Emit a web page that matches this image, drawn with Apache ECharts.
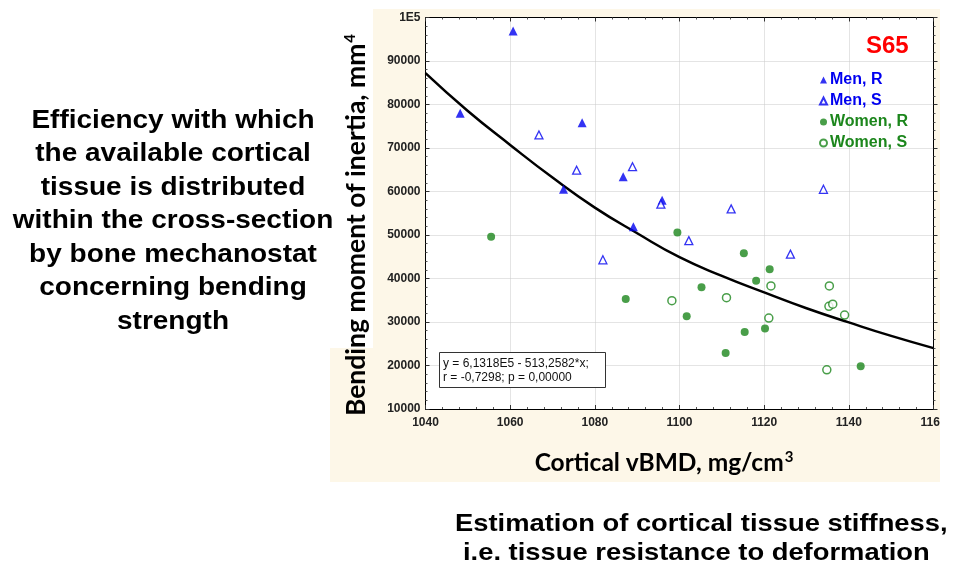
<!DOCTYPE html>
<html>
<head>
<meta charset="utf-8">
<script src="https://cdn.jsdelivr.net/npm/echarts@6/dist/echarts.min.js"></script>
<style>
  html, body { margin: 0; padding: 0; background: #ffffff; }
  #chart { width: 972px; height: 571px; }
</style>
</head>
<body>
<div id="chart"></div>
<script>
// Cortical vBMD (mg/cm3) vs bending moment of inertia (mm4), site S65
const menR = [[1048.2, 78000], [1060.7, 96900], [1077.0, 75800], [1072.6, 60500],
              [1086.7, 63400], [1089.1, 51900], [1095.9, 58000]];
const menS = [[1066.8, 73000], [1075.7, 64900], [1088.9, 65700], [1134.0, 60500],
              [1112.2, 56000], [1095.6, 57100], [1102.2, 48700], [1126.2, 45600],
              [1081.9, 44300]];
const womenR = [[1055.5, 49600], [1087.3, 35300], [1099.5, 50600], [1115.2, 45800],
                [1121.3, 42100], [1118.1, 39500], [1105.2, 38000], [1101.7, 31300],
                [1115.4, 27700], [1120.2, 28500], [1110.9, 22900], [1142.8, 19800]];
const womenS = [[1098.2, 34900], [1111.1, 35600], [1121.6, 38300], [1121.1, 30900],
                [1135.4, 38300], [1135.3, 33600], [1136.2, 34100], [1139.0, 31600],
                [1134.8, 19000]];
// fitted regression curve, sampled every 10 mg/cm3
const fitX = [1040, 1050, 1060, 1070, 1080, 1090, 1100, 1110, 1120, 1130, 1140, 1150, 1160];
const fitY = [87200, 78500, 70700, 63200, 56300, 50400, 44900, 40600, 36800, 33150, 29900, 26800, 24000];

const seriesNames = ['Men, R', 'Men, S', 'Women, R', 'Women, S'];
const eqLines = ['y = 6,1318E5 - 513,2582*x;', 'r = -0,7298; p = 0,00000'];
const leftNote = ['Efficiency with which', 'the available cortical', 'tissue is distributed',
                  'within the cross-section', 'by bone mechanostat', 'concerning bending', 'strength'];
const bottomNote = ['Estimation of cortical tissue stiffness,', 'i.e. tissue resistance to deformation'];

const BLUE = '#0000f0';
const GREEN = '#1c861c';
const labelFont = { fontFamily: 'Liberation Sans, Arial, sans-serif', fontWeight: 'bold', fontSize: 12, color: '#222' };

const chart = echarts.init(document.getElementById('chart'), null, { renderer: 'canvas' });

function frameAxis(extra) {
  return Object.assign({
    type: 'value',
    axisLine: { show: true, lineStyle: { color: '#000', width: 1 } },
    axisTick: { show: true, inside: true, length: 4, lineStyle: { color: '#333' } },
    minorTick: { show: true, splitNumber: 5, length: 2, lineStyle: { color: '#555' } },
    axisLabel: { show: false },
    splitLine: { show: false }
  }, extra);
}

const titleRich = {
  t: { fontFamily: 'Lato, sans-serif', fontWeight: 'bold', fill: '#000' },
  s: { fontFamily: 'Lato, sans-serif', fontWeight: 'bold', fill: '#000', fontSize: 15, padding: [0, 0, 12, 1] }
};

const option = {
  animation: false,
  backgroundColor: '#ffffff',
  grid: { left: 425.5, top: 17.5, width: 508, height: 391.5, show: false, containLabel: false },
  xAxis: [
    frameAxis({
      min: 1040, max: 1160, interval: 20, position: 'bottom',
      axisLabel: Object.assign({ show: true, margin: 8, formatter: v => String(v) }, labelFont),
      splitLine: { show: true, lineStyle: { color: '#c9c9c9', type: 'dotted' } }
    }),
    frameAxis({ min: 1040, max: 1160, interval: 20, position: 'top' })
  ],
  yAxis: [
    frameAxis({
      min: 10000, max: 100000, interval: 10000, position: 'left',
      axisLabel: Object.assign({ show: true, margin: 5,
        formatter: v => (v === 100000 ? '1E5' : String(v)) }, labelFont),
      splitLine: { show: true, lineStyle: { color: '#c9c9c9', type: 'dotted' } }
    }),
    frameAxis({ min: 10000, max: 100000, interval: 10000, position: 'right',
      axisTick: { show: true, inside: false, length: 4, lineStyle: { color: '#333' } } })
  ],
  legend: {
    orient: 'vertical', left: 814, top: 67,
    itemWidth: 7, itemHeight: 7, itemGap: 5,
    textStyle: { fontFamily: 'Liberation Sans, Arial, sans-serif', fontWeight: 'bold', fontSize: 16, lineHeight: 16, padding: [0, 0, 0, -2] },
    data: [
      { name: seriesNames[0], textStyle: { color: BLUE } },
      { name: seriesNames[1], textStyle: { color: BLUE } },
      { name: seriesNames[2], textStyle: { color: GREEN } },
      { name: seriesNames[3], textStyle: { color: GREEN } }
    ]
  },
  graphic: [
    // tan panel behind the plot
    { type: 'rect', z: -100, silent: true, shape: { x: 330, y: 9, width: 610, height: 473 }, style: { fill: '#fdf7e8' } },
    { type: 'rect', z: -99, silent: true, shape: { x: 330, y: 9, width: 43, height: 339 }, style: { fill: '#ffffff' } },
    { type: 'rect', z: -99, silent: true, shape: { x: 425.5, y: 17.5, width: 508, height: 391.5 }, style: { fill: '#ffffff' } },
    // trims the last x tick label at the panel edge
    { type: 'rect', z: 100, silent: true, shape: { x: 940, y: 412, width: 32, height: 30 }, style: { fill: '#ffffff' } },
    // axis titles
    { type: 'text', z: 50, x: 356, y: 225, rotation: Math.PI / 2,
      style: { text: '{t|Bending moment of inertia, mm}{s|4}', textAlign: 'center', textVerticalAlign: 'middle',
               rich: { t: Object.assign({}, titleRich.t, { fontSize: 26.5 }), s: titleRich.s } } },
    { type: 'text', z: 50, x: 664, y: 463,
      style: { text: '{t|Cortical vBMD, mg/cm}{s|3}', textAlign: 'center', textVerticalAlign: 'middle',
               rich: { t: Object.assign({}, titleRich.t, { fontSize: 24.5 }), s: titleRich.s } } },
    { type: 'text', z: 50, left: 866, top: 34,
      style: { text: 'S65', fill: '#ff0000', font: 'bold 24px "Liberation Sans", Arial, sans-serif' } },
    { type: 'rect', z: 50, shape: { x: 439.5, y: 352.5, width: 166, height: 35 }, style: { fill: '#ffffff', stroke: '#333', lineWidth: 1 } },
    { type: 'text', z: 51, x: 443, y: 356,
      style: { text: eqLines.join('\n'), fill: '#111', font: '12px "Liberation Sans", Arial, sans-serif', lineHeight: 14.5 } },
    // side notes
    { type: 'text', z: 50, x: 173, y: 104, scaleX: 1.12,
      style: { text: leftNote.join('\n'), fill: '#000', textAlign: 'center', font: 'bold 25px "Liberation Sans", Arial, sans-serif', lineHeight: 33.5 } },
    { type: 'text', z: 50, x: 455, y: 512, scaleX: 1.14,
      style: { text: bottomNote[0], fill: '#000', font: 'bold 24px "Liberation Sans", Arial, sans-serif' } },
    { type: 'text', z: 50, x: 463, y: 541, scaleX: 1.14,
      style: { text: bottomNote[1], fill: '#000', font: 'bold 24px "Liberation Sans", Arial, sans-serif' } }
  ],
  series: [
    {
      name: 'fit', type: 'line', smooth: true, symbol: 'none', silent: true, z: 3,
      data: fitX.map((x, i) => [x, fitY[i]]),
      lineStyle: { color: '#000', width: 2.5 }
    },
    {
      name: seriesNames[0], type: 'scatter', symbol: 'triangle', symbolSize: 9, z: 5,
      data: menR, itemStyle: { color: BLUE }
    },
    {
      name: seriesNames[1], type: 'scatter', symbol: 'triangle', symbolSize: 8, z: 5,
      data: menS, itemStyle: { color: '#ffffff', borderColor: BLUE, borderWidth: 1.3 }
    },
    {
      name: seriesNames[2], type: 'scatter', symbol: 'circle', symbolSize: 8, z: 5,
      data: womenR, itemStyle: { color: GREEN }
    },
    {
      name: seriesNames[3], type: 'scatter', symbol: 'circle', symbolSize: 8, z: 5,
      data: womenS, itemStyle: { color: '#ffffff', borderColor: GREEN, borderWidth: 1.5 }
    }
  ]
};

chart.setOption(option);
</script>
</body>
</html>
